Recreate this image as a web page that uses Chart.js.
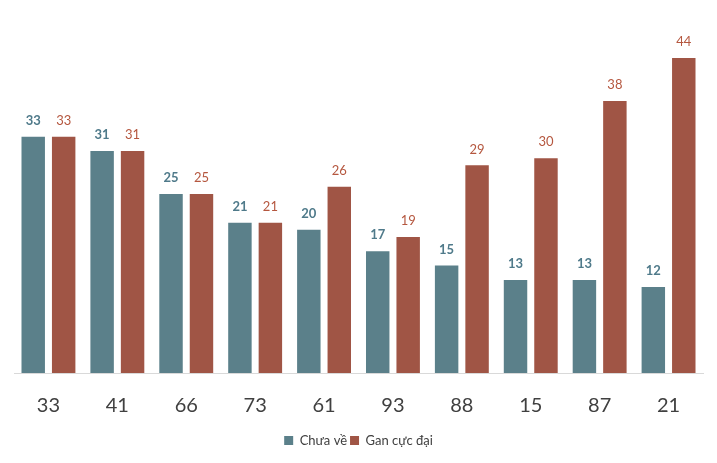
<!DOCTYPE html>
<html>
<head>
<meta charset="utf-8">
<script src="https://cdn.jsdelivr.net/npm/chart.js@4"></script>
<style>
  body { margin: 0; background: #fff; }
  #wrap { width: 717px; height: 463px; }
</style>
</head>
<body>
<div id="wrap"><canvas id="grafico" width="717" height="463"></canvas></div>
<script>
const categorias = ['33', '41', '66', '73', '61', '93', '88', '15', '87', '21'];
const chuaVe = [33, 31, 25, 21, 20, 17, 15, 13, 13, 12];
const ganCucDai = [33, 31, 25, 21, 26, 19, 29, 30, 38, 44];

const corAzul = '#5b808a';
const corVermelho = '#a05545';

// rótulos acima das barras
const rotulos = {
    id: 'rotulos',
    afterDatasetsDraw(chart) {
        const ctx = chart.ctx;
        ctx.save();
        ctx.textAlign = 'center';
        ctx.textBaseline = 'middle';
        chart.data.datasets.forEach((ds, i) => {
            const meta = chart.getDatasetMeta(i);
            ctx.fillStyle = i === 0 ? '#4f7a8a' : '#b5573f';
            ctx.font = (i === 0 ? 'bold ' : '') + '13px Lato';
            meta.data.forEach((bar, j) => {
                ctx.fillText(ds.data[j], bar.x, bar.y - 16);
            });
        });
        ctx.restore();
    }
};

new Chart(document.getElementById('grafico'), {
    type: 'bar',
    data: {
        labels: categorias,
        datasets: [{
            label: 'Chưa về',
            data: chuaVe,
            backgroundColor: corAzul,
            categoryPercentage: 0.884,
            barPercentage: 0.77
        }, {
            label: 'Gan cực đại',
            data: ganCucDai,
            backgroundColor: corVermelho,
            categoryPercentage: 0.884,
            barPercentage: 0.77
        }]
    },
    options: {
        responsive: false,
        animation: false,
        layout: { padding: { left: 14, right: 14, top: 15, bottom: 6 } },
        scales: {
            x: {
                grid: { display: false },
                border: { color: '#d9d9d9', width: 1 },
                ticks: {
                    color: '#404040',
                    font: { family: 'Lato', size: 20, lineHeight: 1 },
                    padding: 15
                }
            },
            y: {
                display: false,
                beginAtZero: true,
                max: 50
            }
        },
        plugins: {
            legend: {
                position: 'bottom',
                labels: {
                    color: '#404040',
                    font: { family: 'Lato', size: 13 },
                    boxWidth: 9,
                    boxHeight: 9,
                    padding: 3
                }
            },
            tooltip: { enabled: false }
        }
    },
    plugins: [rotulos]
});
</script>
</body>
</html>
